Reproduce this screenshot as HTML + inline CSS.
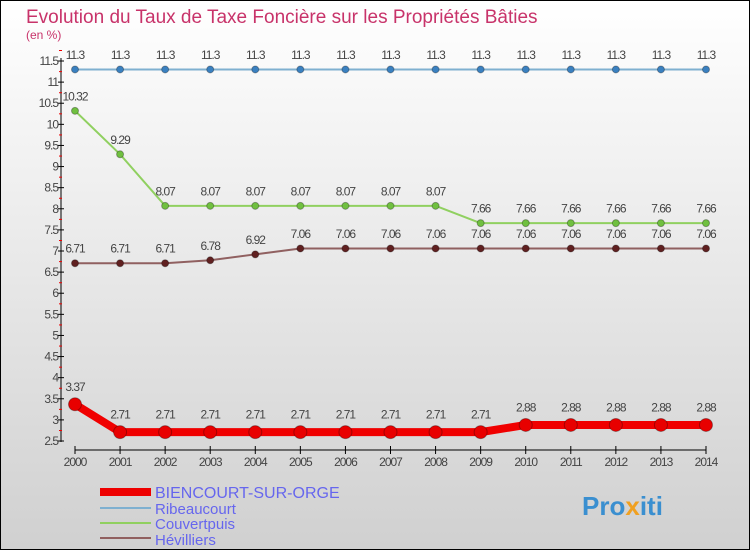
<!DOCTYPE html>
<html><head><meta charset="utf-8"><style>
body{margin:0}
svg{display:block;font-family:"Liberation Sans",sans-serif}
</style></head><body>
<svg id="c" width="750" height="550" xmlns="http://www.w3.org/2000/svg">
<defs><linearGradient id="bg" x1="0" y1="0" x2="0" y2="1"><stop offset="0" stop-color="#ffffff"/><stop offset="1" stop-color="#d0d0d0"/></linearGradient></defs>
<rect x="0.5" y="0.5" width="749" height="549" fill="url(#bg)" stroke="#000"/>
<text x="26" y="23" font-size="19" fill="#c8336a">Evolution du Taux de Taxe Foncière sur les Propriétés Bâties</text>
<text x="26" y="39" font-size="12" fill="#c8336a">(en %)</text>
<g id="axes"></g><g id="series"></g>
<g>
<line x1="100" y1="492" x2="151" y2="492" stroke="#e00" stroke-width="8"/>
<text x="155" y="498" font-size="16" fill="#6666ee">BIENCOURT-SUR-ORGE</text>
<line x1="100" y1="508" x2="151" y2="508" stroke="#7fb0d0" stroke-width="2"/>
<text x="155" y="514" font-size="15" fill="#6666ee">Ribeaucourt</text>
<line x1="100" y1="523" x2="151" y2="523" stroke="#90d060" stroke-width="2"/>
<text x="155" y="529" font-size="15" fill="#6666ee">Couvertpuis</text>
<line x1="100" y1="538" x2="151" y2="538" stroke="#906060" stroke-width="2"/>
<text x="155" y="545" font-size="15" fill="#6666ee">Hévilliers</text>
</g>
<text x="582" y="515" font-size="26" font-weight="bold" fill="#3a8fd0">Pro<tspan fill="#f0a020">x</tspan>iti</text>
</svg>
<script>
const years=[2000,2001,2002,2003,2004,2005,2006,2007,2008,2009,2010,2011,2012,2013,2014];
const yTicks=[2.5,3,3.5,4,4.5,5,5.5,6,6.5,7,7.5,8,8.5,9,9.5,10,10.5,11,11.5];
const biencourt=[3.37,2.71,2.71,2.71,2.71,2.71,2.71,2.71,2.71,2.71,2.88,2.88,2.88,2.88,2.88];
const ribeaucourt=[11.3,11.3,11.3,11.3,11.3,11.3,11.3,11.3,11.3,11.3,11.3,11.3,11.3,11.3,11.3];
const couvertpuis=[10.32,9.29,8.07,8.07,8.07,8.07,8.07,8.07,8.07,7.66,7.66,7.66,7.66,7.66,7.66];
const hevilliers=[6.71,6.71,6.71,6.78,6.92,7.06,7.06,7.06,7.06,7.06,7.06,7.06,7.06,7.06,7.06];
const NS="http://www.w3.org/2000/svg";
const X=i=>75+i*(706-75)/(years.length-1);
const Y=v=>441-(v-2.5)*(441-61)/9;
function mk(p,t,a){const e=document.createElementNS(NS,t);for(const k in a)e.setAttribute(k,a[k]);p.appendChild(e);return e;}
const ax=document.getElementById('axes');
let l=mk(ax,'line',{x1:61,y1:58,x2:61,y2:442,stroke:'#000'});


l=mk(ax,'line',{x1:75,y1:450,x2:706,y2:450,stroke:'#000'});


yTicks.forEach(v=>{const y=Y(v);
 const t=mk(ax,'line',{x1:58,y1:y,x2:64,y2:y,stroke:'#000'});
 
 
 const m=mk(ax,'line',{x1:59,y1:y-10.5,x2:62,y2:y-10.5,stroke:'#e00'});
 
 
 const tx=mk(ax,'text',{x:58,y:y+4,'font-size':12,'text-anchor':'end',fill:'#444','letter-spacing':'-1'});
 tx.textContent=String(v);
 
 
});
years.forEach((yr,i)=>{const x=X(i);
 const t=mk(ax,'line',{x1:x,y1:446,x2:x,y2:454,stroke:'#000'});
 
 
 const tx=mk(ax,'text',{x:x,y:466,'font-size':12,'text-anchor':'middle',fill:'#444','letter-spacing':'-1'});
 tx.textContent=String(yr);
 
 
});
const sg=document.getElementById('series');
function series(name,vals,color,w,r,dot){
 const g=mk(sg,'g',{});
 
 
 const p=mk(g,'polyline',{points:vals.map((v,i)=>X(i)+','+Y(v)).join(' '),fill:'none',stroke:color,'stroke-width':w,'stroke-linejoin':'round'});
 
 
 vals.forEach((v,i)=>{
  const c=mk(g,'circle',{cx:X(i),cy:Y(v),r:r,fill:dot,stroke:'rgba(0,0,0,0.3)'});
  
  
  const t=mk(g,'text',{x:X(i),y:Y(v)-(r+7),'font-size':12,'text-anchor':'middle',fill:'#444','letter-spacing':'-1'});
  t.textContent=String(v);
  
  
 });
}
series('ribeaucourt',ribeaucourt,'#7fb0d0',2,3.5,'#3a80c0');
series('couvertpuis',couvertpuis,'#90d060',2,3.5,'#70c040');
series('hevilliers',hevilliers,'#906060',2,3.5,'#602020');
series('biencourt',biencourt,'#f00000',8,6.5,'#e80000');
</script>
</body></html>
